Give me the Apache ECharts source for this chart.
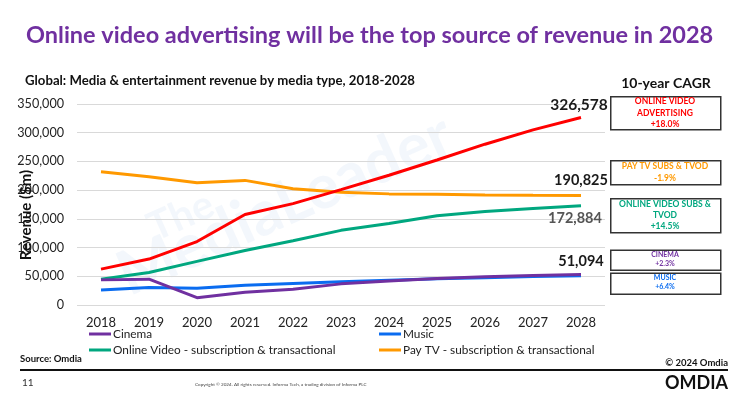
<!DOCTYPE html>
<html>
<head>
<meta charset="utf-8">
<script src="https://cdn.jsdelivr.net/npm/echarts@6/dist/echarts.min.js"></script>
<style>
html,body{margin:0;padding:0;background:#fff;}
#chart{width:750px;height:415px;}
</style>
</head>
<body>
<div id="chart"></div>
<script>
// ---- data ----
var years = ['2018','2019','2020','2021','2022','2023','2024','2025','2026','2027','2028'];
var onlineVideoAdvertising = [62500, 80000, 110500, 157500, 176500, 201000, 226000, 252500, 280000, 305000, 326578];
var payTv = [232000, 223500, 213000, 217000, 202500, 196500, 193500, 193000, 191500, 191000, 190825];
var onlineVideoSubs = [45000, 56500, 76000, 95000, 112000, 130000, 142000, 155500, 163000, 168000, 172884];
var music = [26300, 30500, 29000, 34500, 37500, 40500, 43000, 45500, 47500, 49500, 51094];
var cinema = [43750, 45000, 12800, 22000, 27400, 36800, 42000, 46000, 49000, 51500, 53000];
var yTicks = [0, 50000, 100000, 150000, 200000, 250000, 300000, 350000];
var seriesNames = ['Cinema', 'Music', 'Online Video - subscription & transactional', 'Pay TV - subscription & transactional', 'Online video advertising'];
var cagrBoxes = [
  {lines: ['ONLINE VIDEO', 'ADVERTISING', '+18.0%'], color: '#FF0000'},
  {lines: ['PAY TV SUBS & TVOD', '-1.9%'], color: '#FF9900'},
  {lines: ['ONLINE VIDEO SUBS &', 'TVOD', '+14.5%'], color: '#00A77F'},
  {lines: ['CINEMA', '+2.3%'], color: '#7030A0'},
  {lines: ['MUSIC', '+6.4%'], color: '#0A6CF0'}
];

var FONT = 'Lato, "Open Sans", sans-serif';
var colors = {cinema:'#7030A0', music:'#0A6CF0', subs:'#00A77F', paytv:'#FF9900', adv:'#FF0000'};

function lastLabel(arr, opts) {
  return arr.map(function (v, i) {
    if (i !== arr.length - 1) return v;
    return {value: v, label: Object.assign({
      show: true, fontFamily: FONT, fontWeight: 'bold', color: '#1a1a1a',
      formatter: function (p) { return p.value.toLocaleString('en-US'); }
    }, opts)};
  });
}

function lineSeries(name, data, color, z) {
  return {
    name: name, type: 'line', data: data, symbol: 'circle', symbolSize: 0, showSymbol: true, z: z,
    lineStyle: {color: color, width: 3}, itemStyle: {color: color},
    emphasis: {disabled: true}
  };
}

// CAGR box graphics (layout positions)
var boxGeom = [
  {y: 96, h: 33, lineY: [101.7, 113.3, 124.3], fs: 8.5},
  {y: 160, h: 24, lineY: [166.7, 178.3], fs: 8.5},
  {y: 198, h: 34, lineY: [204, 215.3, 226.7], fs: 8.5},
  {y: 249.5, h: 20, lineY: [254.7, 264], fs: 7},
  {y: 272.5, h: 21, lineY: [277.7, 287], fs: 7}
];
var graphics = [];
cagrBoxes.forEach(function (b, i) {
  var g = boxGeom[i];
  graphics.push({type: 'rect', left: 610, top: g.y, shape: {width: 110, height: g.h},
    style: {fill: '#fff', stroke: '#333', lineWidth: 1.5}, z: 10});
  b.lines.forEach(function (t, j) {
    graphics.push({type: 'text', x: 665, y: g.lineY[j], z: 11,
      style: {text: t, fill: b.color, font: 'bold ' + g.fs + 'px ' + FONT, textAlign: 'center', textVerticalAlign: 'middle'}});
  });
});

// watermark
graphics.push({type: 'text', x: 150, y: 230, rotation: 0.42, z: 0, silent: true,
  style: {text: 'The', fill: 'rgba(190,210,240,0.18)', font: 'bold 40px ' + FONT, textAlign: 'left', textVerticalAlign: 'middle'}});
graphics.push({type: 'text', x: 285, y: 205, rotation: 0.42, z: 0, silent: true,
  style: {text: 'MediaLeader', fill: 'rgba(190,210,240,0.18)', font: 'bold 62px ' + FONT, textAlign: 'center', textVerticalAlign: 'middle'}});

// texts
graphics.push({type: 'text', x: 26, y: 215, rotation: Math.PI / 2, z: 5,
  style: {text: 'Revenue ($m)', fill: '#111', font: 'bold 15px ' + FONT, textAlign: 'center', textVerticalAlign: 'middle'}});
graphics.push({type: 'text', x: 666, y: 83,
  style: {text: '10-year CAGR', fill: '#111', font: 'bold 14px ' + FONT, textAlign: 'center', textVerticalAlign: 'middle'}});
graphics.push({type: 'text', x: 20, y: 359,
  style: {text: 'Source: Omdia', fill: '#111', font: 'bold 9.5px ' + FONT, textAlign: 'left', textVerticalAlign: 'middle'}});
graphics.push({type: 'text', x: 728, y: 363,
  style: {text: '\u00A9 2024 Omdia', fill: '#111', font: 'bold 9.5px ' + FONT, textAlign: 'right', textVerticalAlign: 'middle'}});
graphics.push({type: 'line', shape: {x1: 20, y1: 370, x2: 728, y2: 370}, style: {stroke: '#111', lineWidth: 2}});
graphics.push({type: 'text', x: 22, y: 383,
  style: {text: '11', fill: '#333', font: '10px ' + FONT, textAlign: 'left', textVerticalAlign: 'middle'}});
graphics.push({type: 'text', x: 195, y: 385,
  style: {text: 'Copyright \u00A9 2024. All rights reserved. Informa Tech, a trading division of Informa PLC', fill: '#444', font: '4.6px ' + FONT, textAlign: 'left', textVerticalAlign: 'middle'}});
graphics.push({type: 'text', x: 728, y: 383,
  style: {text: 'OMDIA', fill: '#111', font: 'bold 18px ' + FONT, textAlign: 'right', textVerticalAlign: 'middle'}});

function legend(name, left, top) {
  return {show: true, data: [name], left: left, top: top, icon: 'rect', itemWidth: 22, itemHeight: 3,
    itemGap: 0, padding: 0, selectedMode: false,
    textStyle: {fontFamily: FONT, fontSize: 11.8, color: '#222', padding: [0, 0, 0, -3]}};
}

var option = {
  animation: false,
  backgroundColor: '#fff',
  title: [
    {text: 'Online video advertising will be the top source of revenue in 2028', left: 21, top: 18,
      textStyle: {fontFamily: FONT, fontSize: 23.5, fontWeight: 'bold', color: '#7030A0'}},
    {text: 'Global: Media & entertainment revenue by media type, 2018-2028', left: 20, top: 69,
      textStyle: {fontFamily: FONT, fontSize: 13.2, fontWeight: 'bold', color: '#111'}}
  ],
  legend: [
    legend(seriesNames[0], 89, 328),
    legend(seriesNames[1], 379, 328),
    legend(seriesNames[2], 89, 344),
    legend(seriesNames[3], 379, 344)
  ],
  grid: {left: 77, right: 145, top: 104, bottom: 110, containLabel: false},
  xAxis: {
    type: 'category', data: years, boundaryGap: true,
    axisLine: {show: false}, axisTick: {show: false},
    axisLabel: {fontFamily: FONT, fontSize: 13, color: '#222', margin: 11}
  },
  yAxis: {
    type: 'value', min: yTicks[0], max: yTicks[yTicks.length - 1], interval: 50000,
    axisLine: {show: false}, axisTick: {show: false},
    splitLine: {lineStyle: {color: '#d9d9d9', width: 1}},
    axisLabel: {fontFamily: FONT, fontSize: 12.6, color: '#222', margin: 13,
      formatter: function (v) { return v.toLocaleString('en-US'); }}
  },
  series: [
    lineSeries(seriesNames[3], lastLabel(payTv, {position: 'top', distance: 8, fontSize: 14.5}), colors.paytv, 2),
    lineSeries(seriesNames[2], lastLabel(onlineVideoSubs, {position: 'bottom', distance: 5, fontSize: 14.5, color: '#555', offset: [-6, 0]}), colors.subs, 3),
    lineSeries(seriesNames[1], lastLabel(music, {position: 'top', distance: 7, fontSize: 14.5}), colors.music, 4),
    lineSeries(seriesNames[0], cinema, colors.cinema, 5),
    lineSeries(seriesNames[4], lastLabel(onlineVideoAdvertising, {position: 'top', distance: 4, fontSize: 15.5, offset: [-2, 0]}), colors.adv, 6)
  ],
  graphic: graphics
};

var chart = echarts.init(document.getElementById('chart'), null, {renderer: 'canvas'});
chart.setOption(option);
</script>
</body>
</html>
